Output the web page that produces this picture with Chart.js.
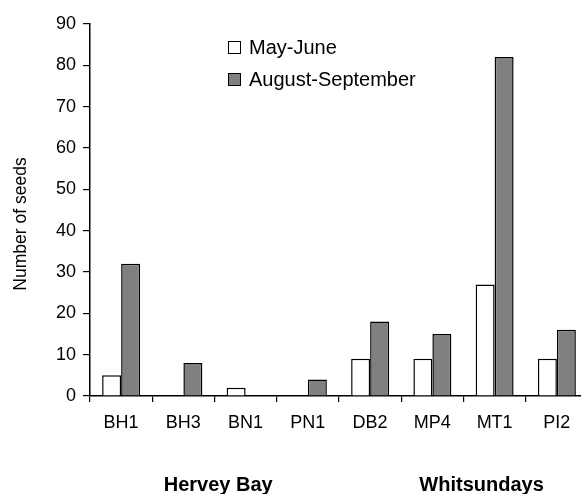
<!DOCTYPE html>
<html>
<head>
<meta charset="utf-8">
<script src="https://cdn.jsdelivr.net/npm/chart.js@4"></script>
<style>
  html, body { margin: 0; padding: 0; background: #fff; overflow: hidden; }
  #wrap { width: 590px; height: 494px; }
</style>
</head>
<body>
<div id="wrap"><canvas id="seedChart"></canvas></div>
<script>
// Sites and regions
const sites = ['BH1', 'BH3', 'BN1', 'PN1', 'DB2', 'MP4', 'MT1', 'PI2'];
const regions = ['Hervey Bay', 'Whitsundays'];

// Seed counts per site
const mayJune = [5, 0, 2, 0, 9, 9, 27, 9];
const augSep = [32, 8, 0, 4, 18, 15, 82, 16];

const yTicks = [0, 10, 20, 30, 40, 50, 60, 70, 80, 90];
const yTitle = 'Number of seeds';

const font = 'Arial, "Liberation Sans", sans-serif';

// Legend drawn at top of plot like the original
const legendPlugin = {
  id: 'boxLegend',
  afterDraw(chart) {
    const c = chart.ctx;
    c.save();
    c.font = '20px ' + font;
    c.textBaseline = 'middle';
    chart.data.datasets.forEach((ds, i) => {
      const y = 47 + i * 32;
      c.fillStyle = ds.backgroundColor;
      c.fillRect(228, y - 6, 12, 12);
      c.strokeStyle = '#000';
      c.lineWidth = 1;
      c.strokeRect(228.5, y - 5.5, 12, 12);
      c.fillStyle = '#000';
      c.fillText(ds.label, 249, y + 1);
    });
    c.restore();
  }
};

// Region names under the site labels, plus the y title (sits a bit low in the original)
const labelPlugin = {
  id: 'extraLabels',
  afterDraw(chart) {
    const c = chart.ctx;
    const x = chart.scales.x;
    const spots = [1.56, 5.79];
    c.save();
    c.font = 'bold 20px ' + font;
    c.fillStyle = '#000';
    c.textAlign = 'center';
    c.textBaseline = 'middle';
    regions.forEach((r, i) => {
      c.fillText(r, x.getPixelForValue(spots[i]), 485);
    });
    c.translate(21, 224);
    c.rotate(-Math.PI / 2);
    c.font = '17.5px ' + font;
    c.fillText(yTitle, 0, 0);
    c.restore();
  }
};

document.addEventListener('DOMContentLoaded', function () {
  let ctx = document.getElementById('seedChart').getContext('2d');
  new Chart(ctx, {
    type: 'bar',
    data: {
      labels: sites,
      datasets: [
        {
          label: 'May-June',
          data: mayJune,
          backgroundColor: '#ffffff',
          borderColor: '#000000',
          borderWidth: 1.5
        },
        {
          label: 'August-September',
          data: augSep,
          backgroundColor: '#808080',
          borderColor: '#000000',
          borderWidth: 1.5
        }
      ]
    },
    options: {
      responsive: true,
      maintainAspectRatio: false,
      animation: false,
      categoryPercentage: 0.61,
      barPercentage: 1.0,
      layout: { padding: { top: 24, right: 2, left: 0, bottom: 0 } },
      plugins: {
        legend: { display: false },
        tooltip: { enabled: false }
      },
      scales: {
        x: {
          afterFit(scale) { scale.height = 98; },
          border: { display: true, color: '#000', width: 1.5 },
          grid: {
            offset: true,
            drawOnChartArea: false,
            drawTicks: true,
            tickLength: 6,
            color: '#000',
            lineWidth: 1.2
          },
          ticks: {
            color: '#000',
            padding: 10,
            font: { family: font, size: 18 }
          }
        },
        y: {
          min: 0,
          max: 90,
          afterFit(scale) { scale.width = 90; },
          afterBuildTicks(scale) {
            scale.ticks = yTicks.map(v => ({ value: v }));
          },
          border: { display: true, color: '#000', width: 1.5 },
          grid: {
            drawOnChartArea: false,
            tickLength: 7,
            color: '#000',
            lineWidth: 1.2
          },
          ticks: {
            color: '#000',
            padding: 7,
            font: { family: font, size: 18 }
          }
        }
      }
    },
    plugins: [legendPlugin, labelPlugin]
  });
});
</script>
</body>
</html>
